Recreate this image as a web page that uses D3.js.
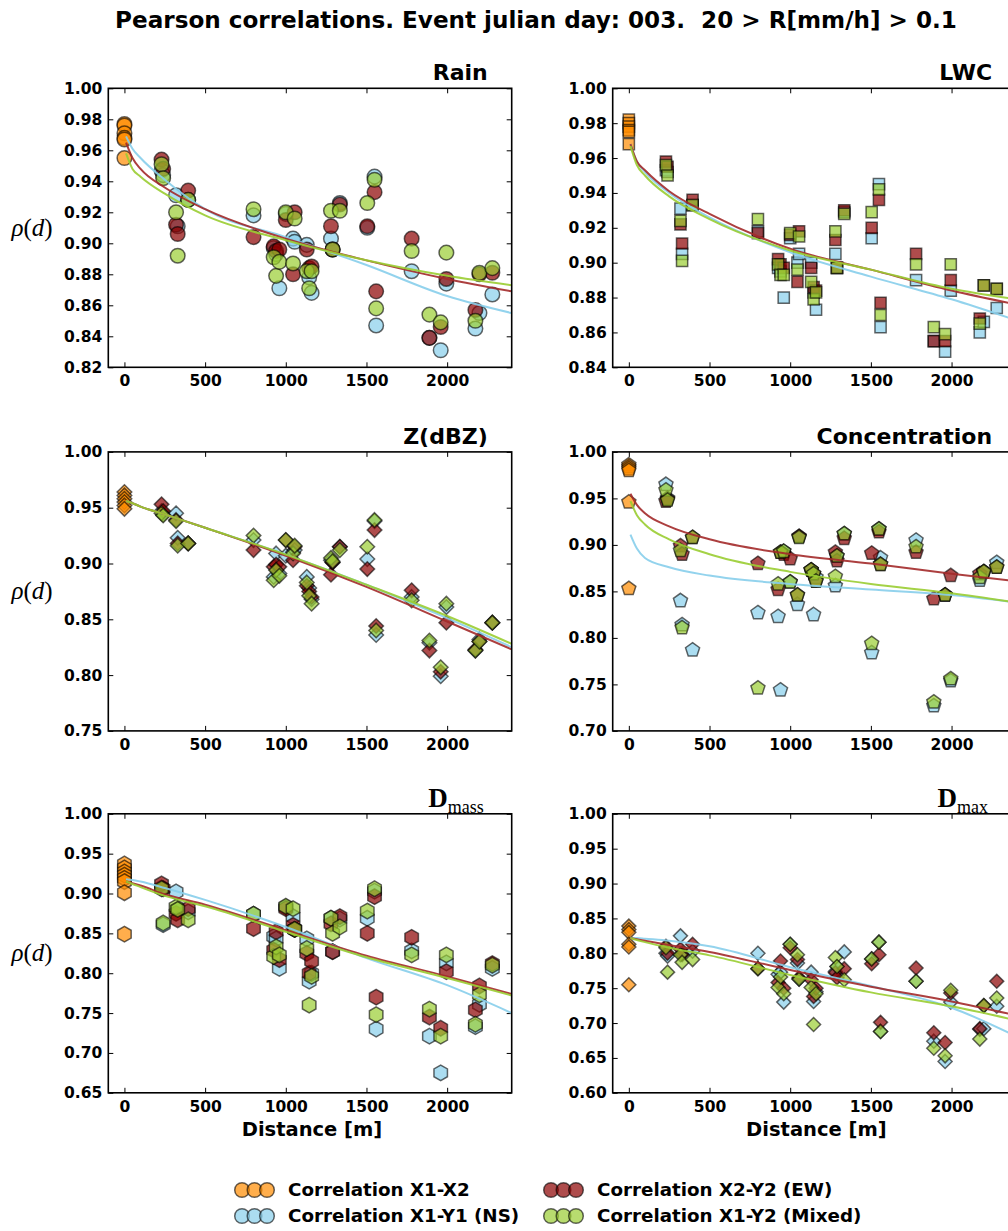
<!DOCTYPE html>
<html>
<head>
<meta charset="utf-8">
<script src="https://cdn.jsdelivr.net/npm/d3@7"></script>
<style>
body { margin: 0; background: #fff; }
svg { display: block; font-family: "DejaVu Sans", sans-serif; }
</style>
</head>
<body>
<svg id="chart" width="1008" height="1231"></svg>
<script>
// distances [m] of the gauge pairs (shared by the NS / EW / mixed series)
const dist = [230, 240, 320, 330, 395, 800, 925, 940, 960, 1000, 1045, 1055, 1130, 1145, 1160,
              1280, 1290, 1335, 1505, 1550, 1560, 1780, 1890, 1960, 1995, 2175, 2200, 2280];

// distances where the fitted curves are read
const fitD = [10, 50, 100, 250, 500, 1000, 1500, 2000, 2400];

const xTicks = [0, 500, 1000, 1500, 2000];

// Rain
const rainX1X2 = [0.977, 0.976, 0.971, 0.968, 0.967, 0.955];
const rainNS  = [.947,.944,.931,.911,.928,.918,.897,.893,.871,.919,.903,.901,.899,.878,.868,.903,.896,.926,.910,.943,.847,.882,.839,.831,.874,.845,.855,.867];
const rainEW  = [.954,.948,.912,.906,.934,.904,.898,.895,.896,.915,.880,.920,.896,.884,.885,.911,.896,.925,.911,.933,.869,.903,.839,.846,.877,.857,.880,.881];
const rainMix = [.951,.942,.920,.892,.928,.922,.891,.879,.888,.920,.887,.916,.882,.871,.882,.921,.896,.921,.926,.941,.858,.895,.854,.849,.894,.850,.881,.884];
const rainFitNS  = [.969,.961,.955,.941,.922,.904,.886,.866,.855];
const rainFitEW  = [.965,.955,.948,.936,.922,.903,.889,.877,.869];
const rainFitMix = [.958,.948,.943,.932,.918,.902,.889,.879,.873];
const rainTicks = [0.82, 0.84, 0.86, 0.88, 0.90, 0.92, 0.94, 0.96, 0.98, 1.00];

// LWC
const lwcX1X2 = [0.982, 0.980, 0.978, 0.976, 0.975, 0.968];
const lwcNS  = [.953,.952,.931,.905,.933,.918,.897,.895,.880,.914,.900,.905,.900,.883,.873,.905,.897,.929,.914,.945,.863,.890,.855,.849,.884,.860,.866,.874];
const lwcEW  = [.958,.955,.922,.911,.936,.917,.902,.899,.897,.916,.889,.918,.897,.886,.884,.913,.897,.930,.920,.936,.877,.905,.855,.855,.890,.868,.887,.885];
const lwcMix = [.956,.950,.924,.901,.933,.925,.899,.893,.893,.917,.896,.915,.889,.879,.883,.918,.897,.928,.929,.942,.870,.899,.863,.859,.899,.865,.887,.885];
const lwcFitNS  = [.968,.958,.952,.940,.926,.906,.892,.879,.867];
const lwcFitEW  = [.968,.958,.953,.941,.928,.908,.896,.884,.876];
const lwcFitMix = [.967,.956,.950,.938,.925,.907,.896,.885,.879];
const lwcTicks = [0.84, 0.86, 0.88, 0.90, 0.92, 0.94, 0.96, 0.98, 1.00];

// Z(dBZ)
const zX1X2 = [0.964, 0.961, 0.958, 0.955, 0.952, 0.949];
const zNS  = [.947,.944,.945,.923,.918,.921,.888,.909,.891,.907,.910,.912,.888,.878,.868,.903,.901,.915,.904,.938,.836,.870,.829,.799,.861,.822,.832,.847];
const zEW  = [.953,.947,.939,.918,.918,.912,.897,.899,.897,.921,.903,.915,.880,.875,.870,.890,.901,.915,.895,.930,.844,.876,.822,.803,.847,.823,.830,.847];
const zMix = [.945,.943,.938,.916,.918,.925,.885,.894,.889,.921,.909,.916,.883,.871,.864,.905,.902,.912,.915,.939,.840,.867,.831,.807,.864,.822,.830,.847];
const zFitNS  = [.956,.954,.951,.944,.932,.908,.881,.851,.825];
const zFitEW  = [.956,.954,.951,.944,.932,.907,.879,.848,.823];
const zFitMix = [.956,.954,.951,.944,.932,.908,.881,.853,.828];
const zTicks = [0.75, 0.80, 0.85, 0.90, 0.95, 1.00];

// Concentration
const concX1X2 = [0.986, 0.984, 0.982, 0.980, 0.946, 0.853];
const concNS  = [.965,.950,.840,.814,.787,.827,.823,.744,.893,.860,.836,.909,.873,.825,.865,.856,.888,.912,.784,.917,.886,.905,.727,.846,.754,.862,.871,.881];
const concEW  = [.947,.949,.899,.890,.908,.880,.852,.892,.890,.885,.846,.909,.873,.869,.861,.892,.883,.907,.891,.914,.879,.892,.842,.846,.867,.869,.871,.876];
const concMix = [.959,.948,.894,.811,.908,.746,.858,.892,.893,.860,.846,.908,.873,.869,.861,.866,.888,.912,.794,.917,.879,.898,.731,.846,.756,.865,.871,.876];
const concFitNS  = [.911,.896,.886,.876,.867,.858,.852,.846,.838];
const concFitEW  = [.955,.943,.934,.920,.906,.890,.880,.869,.861];
const concFitMix = [.947,.932,.922,.906,.890,.871,.858,.848,.838];
const concTicks = [0.70, 0.75, 0.80, 0.85, 0.90, 0.95, 1.00];

// D_mass
const dmassX1X2 = [0.937, 0.932, 0.927, 0.923, 0.919, 0.915, 0.901, 0.849];
const dmassNS  = [.907,.861,.902,.880,.877,.874,.846,.843,.806,.883,.871,.855,.843,.790,.800,.869,.827,.868,.869,.903,.730,.828,.721,.675,.813,.733,.761,.806];
const dmassEW  = [.912,.906,.875,.867,.881,.856,.829,.852,.817,.881,.860,.855,.825,.800,.815,.862,.827,.871,.850,.896,.770,.845,.745,.731,.802,.754,.784,.812];
const dmassMix = [.906,.863,.883,.880,.867,.874,.821,.833,.823,.884,.881,.855,.831,.760,.796,.869,.850,.858,.878,.906,.748,.823,.755,.721,.823,.736,.773,.810];
const dmassFitNS  = [.918,.917,.915,.907,.892,.858,.819,.785,.750];
const dmassFitEW  = [.915,.913,.910,.899,.886,.854,.822,.796,.774];
const dmassFitMix = [.915,.912,.908,.897,.884,.852,.820,.794,.772];
const dmassTicks = [0.65, 0.70, 0.75, 0.80, 0.85, 0.90, 0.95, 1.00];

// D_max
const dmaxX1X2 = [0.839, 0.834, 0.830, 0.813, 0.809, 0.755];
const dmaxNS  = [.800,.796,.825,.800,.803,.800,.770,.773,.730,.813,.786,.763,.773,.731,.745,.774,.781,.802,.792,.816,.688,.760,.674,.645,.730,.691,.692,.724];
const dmaxEW  = [.810,.800,.806,.798,.813,.778,.758,.789,.750,.808,.791,.765,.762,.738,.750,.772,.765,.778,.785,.798,.701,.779,.686,.672,.743,.692,.725,.760];
const dmaxMix = [.808,.773,.798,.787,.791,.778,.751,.766,.742,.813,.798,.763,.751,.698,.742,.794,.781,.762,.792,.816,.688,.760,.664,.653,.747,.677,.725,.736];
const dmaxFitNS  = [.822,.822,.821,.818,.810,.780,.753,.722,.681];
const dmaxFitEW  = [.822,.820,.818,.812,.802,.776,.752,.731,.711];
const dmaxFitMix = [.822,.819,.816,.808,.797,.769,.744,.724,.704];
const dmaxTicks = [0.60, 0.65, 0.70, 0.75, 0.80, 0.85, 0.90, 0.95, 1.00];

const legendLabels = ["Correlation X1-X2", "Correlation X1-Y1 (NS)", "Correlation X2-Y2 (EW)", "Correlation X1-Y2 (Mixed)"];

// ---------------------------------------------------------------------------
const svg = d3.select("#chart");

const plotW = 403.4, plotH = 279;
const colLeft = [108.3, 612.7];
const rowTop = [88.3, 451.9, 813.8];

const fillColors = ["#ff8c00", "#87ceeb", "#8b0000", "#9acd32"];
const lineColors = ["#87ceeb", "#a32a2a", "#9acd32"];

// regular polygon, first vertex on top
function poly(n, r) {
    const pts = d3.range(n).map(i => {
        const a = i * 2 * Math.PI / n;
        return [(r * Math.sin(a)).toFixed(2), (-r * Math.cos(a)).toFixed(2)];
    });
    return "M" + pts.join("L") + "Z";
}
const shapes = {
    circle: r => `M${r},0A${r},${r} 0 1,1 ${-r},0A${r},${r} 0 1,1 ${r},0Z`,
    square: r => `M${-r},${-r}H${r}V${r}H${-r}Z`,
    diamond: r => poly(4, r),
    pentagon: r => poly(5, r),
    hexagon: r => poly(6, r)
};

const panels = [
    {title: "Rain", row: 0, col: 0, ticks: rainTicks, shape: "circle", size: 7.3,
     x1x2: rainX1X2, series: [rainNS, rainEW, rainMix], fits: [rainFitNS, rainFitEW, rainFitMix]},
    {title: "LWC", row: 0, col: 1, ticks: lwcTicks, shape: "square", size: 5.6,
     x1x2: lwcX1X2, series: [lwcNS, lwcEW, lwcMix], fits: [lwcFitNS, lwcFitEW, lwcFitMix]},
    {title: "Z(dBZ)", row: 1, col: 0, ticks: zTicks, shape: "diamond", size: 7.3,
     x1x2: zX1X2, series: [zNS, zEW, zMix], fits: [zFitNS, zFitEW, zFitMix]},
    {title: "Concentration", row: 1, col: 1, ticks: concTicks, shape: "pentagon", size: 7.4,
     x1x2: concX1X2, series: [concNS, concEW, concMix], fits: [concFitNS, concFitEW, concFitMix]},
    {title: "D", sub: "mass", row: 2, col: 0, ticks: dmassTicks, shape: "hexagon", size: 7.8,
     x1x2: dmassX1X2, series: [dmassNS, dmassEW, dmassMix], fits: [dmassFitNS, dmassFitEW, dmassFitMix]},
    {title: "D", sub: "max", row: 2, col: 1, ticks: dmaxTicks, shape: "diamond", size: 7,
     x1x2: dmaxX1X2, series: [dmaxNS, dmaxEW, dmaxMix], fits: [dmaxFitNS, dmaxFitEW, dmaxFitMix]}
];

// figure title
svg.append("text")
    .attr("x", 536).attr("y", 28)
    .attr("text-anchor", "middle")
    .style("white-space", "pre")
    .style("font-size", "23.1px").style("font-weight", "bold")
    .text("Pearson correlations. Event julian day: 003.  20 > R[mm/h] > 0.1");

panels.forEach((p, pi) => {
    const x0 = colLeft[p.col], y0 = rowTop[p.row];
    const g = svg.append("g").attr("transform", `translate(${x0},${y0})`);

    const x = d3.scaleLinear().domain([-100, 2400]).range([0, plotW]);
    const y = d3.scaleLinear().domain([p.ticks[0], p.ticks[p.ticks.length - 1]]).range([plotH, 0]);

    g.append("clipPath").attr("id", "clip" + pi)
        .append("rect").attr("width", plotW).attr("height", plotH);

    // axes, ticks pointing inward on all four sides
    const styleAxis = sel => {
        sel.select(".domain").remove();
        sel.selectAll(".tick line").attr("stroke", "#000").attr("stroke-width", 1);
        sel.selectAll(".tick text")
            .attr("fill", "#000")
            .style("font-family", "'DejaVu Sans', sans-serif")
            .style("font-size", "15.5px").style("font-weight", "bold");
    };
    g.append("g").attr("transform", `translate(0,${plotH})`)
        .call(d3.axisBottom(x).tickValues(xTicks).tickSizeInner(-5).tickSizeOuter(0).tickPadding(8).tickFormat(d3.format("d")))
        .call(styleAxis);
    g.append("g")
        .call(d3.axisTop(x).tickValues(xTicks).tickSizeInner(-5).tickSizeOuter(0).tickFormat(""))
        .call(styleAxis);
    g.append("g")
        .call(d3.axisLeft(y).tickValues(p.ticks).tickSizeInner(-5).tickSizeOuter(0).tickPadding(6).tickFormat(d3.format(".2f")))
        .call(styleAxis);
    g.append("g").attr("transform", `translate(${plotW},0)`)
        .call(d3.axisRight(y).tickValues(p.ticks).tickSizeInner(-5).tickSizeOuter(0).tickFormat(""))
        .call(styleAxis);

    const plot = g.append("g").attr("clip-path", `url(#clip${pi})`);

    // markers: X1-X2 at zero distance, then NS, EW, mixed
    const sets = [p.x1x2.map(v => ({d: 0, v: v}))]
        .concat(p.series.map(arr => arr.map((v, i) => ({d: dist[i], v: v}))));
    sets.forEach((pts, si) => {
        plot.append("g").selectAll("path")
            .data(pts)
            .enter().append("path")
            .attr("transform", d => `translate(${x(d.d)},${y(d.v)})`)
            .attr("d", shapes[p.shape](p.size))
            .attr("fill", fillColors[si])
            .attr("fill-opacity", 0.7)
            .attr("stroke", "#000")
            .attr("stroke-opacity", 0.6)
            .attr("stroke-width", 1.5);
    });

    // fitted curves
    const line = d3.line()
        .x((d, i) => x(fitD[i]))
        .y(d => y(d))
        .curve(d3.curveMonotoneX);
    p.fits.forEach((f, fi) => {
        plot.append("path")
            .attr("d", line(f))
            .attr("fill", "none")
            .attr("stroke", lineColors[fi])
            .attr("stroke-width", 2)
            .attr("stroke-opacity", 0.9);
    });

    // frame
    g.append("rect")
        .attr("width", plotW).attr("height", plotH)
        .attr("fill", "none").attr("stroke", "#000").attr("stroke-width", 1.6);

    // panel title
    if (p.sub) {
        const t = g.append("text")
            .attr("x", plotW - 28).attr("y", -7)
            .attr("text-anchor", "end")
            .style("font-family", "'Liberation Serif', serif");
        t.append("tspan").style("font-size", "27px").style("font-weight", "bold").text(p.title);
        t.append("tspan").attr("dy", 6).style("font-size", "18px").text(p.sub);
    } else {
        g.append("text")
            .attr("x", plotW - 24).attr("y", -8)
            .attr("text-anchor", "end")
            .style("font-size", "22px").style("font-weight", "bold")
            .text(p.title);
    }

    // y label on the left column
    if (p.col === 0) {
        const t = g.append("text")
            .attr("x", 32 - x0).attr("y", plotH / 2 + 8)
            .attr("text-anchor", "middle")
            .style("font-family", "'Liberation Serif', serif")
            .style("font-size", "25px");
        t.append("tspan").style("font-style", "italic").text("ρ");
        t.append("tspan").text("(");
        t.append("tspan").style("font-style", "italic").text("d");
        t.append("tspan").text(")");
    }

    // x label on the bottom row
    if (p.row === 2) {
        g.append("text")
            .attr("x", plotW / 2 + 2).attr("y", plotH + 43)
            .attr("text-anchor", "middle")
            .style("font-size", "19.5px").style("font-weight", "bold")
            .text("Distance [m]");
    }
});

// legend
const legendPos = [[242, 1190], [242, 1216], [551, 1190], [551, 1216]];
legendLabels.forEach((lab, i) => {
    const lg = svg.append("g").attr("transform", `translate(${legendPos[i][0]},${legendPos[i][1]})`);
    lg.selectAll("path")
        .data([0, 12.5, 25])
        .enter().append("path")
        .attr("transform", d => `translate(${d},0)`)
        .attr("d", shapes.circle(7.3))
        .attr("fill", fillColors[i])
        .attr("fill-opacity", 0.7)
        .attr("stroke", "#000")
        .attr("stroke-opacity", 0.6)
        .attr("stroke-width", 1.5);
    lg.append("text")
        .attr("x", 46).attr("y", 6)
        .style("font-size", "18.3px").style("font-weight", "bold")
        .text(lab);
});
</script>
</body>
</html>
